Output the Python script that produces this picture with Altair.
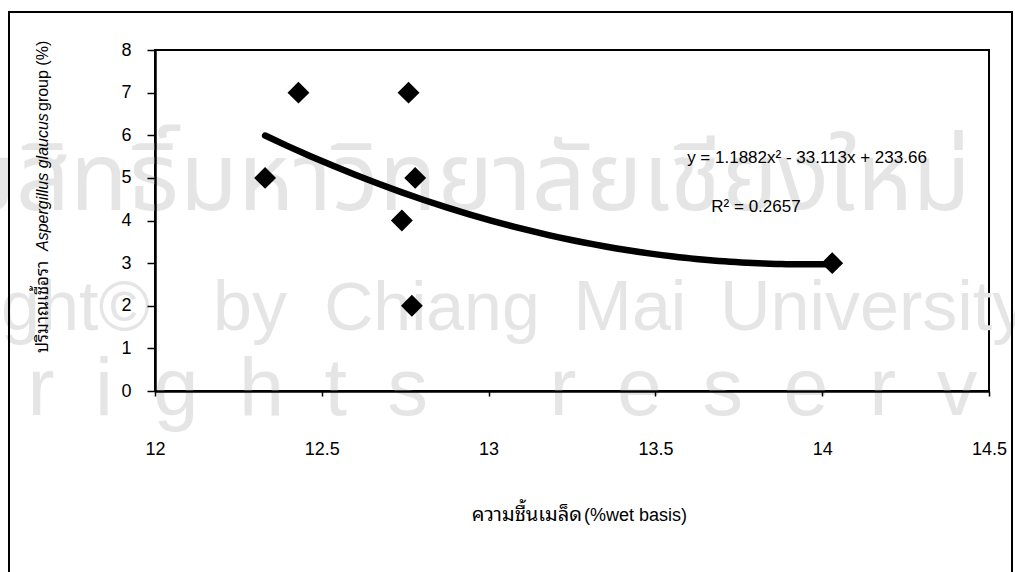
import altair as alt
import pandas as pd

# ---- data ----
moisture = [12.33, 12.43, 12.74, 12.76, 12.78, 12.77, 14.03]   # % wet basis
fungi = [5, 7, 4, 7, 5, 2, 3]                                   # % Aspergillus glaucus group
x_ticks = [12, 12.5, 13, 13.5, 14, 14.5]
y_ticks = [0, 1, 2, 3, 4, 5, 6, 7, 8]
equation_text = "y = 1.1882x² - 33.113x + 233.66"
r2_text = "R² = 0.2657"
x_title_parts = ["ความชื้นเมล็ด", "(%wet basis)"]
y_title_parts = ["ปริมาณเชื้อรา", "Aspergillus glaucus", "group (%)"]

df = pd.DataFrame({"x": moisture, "y": fungi})
one = pd.DataFrame({"a": [0]})

FONT = "Liberation Sans, Arial, Helvetica, sans-serif"
THAI = "Noto Sans Thai Looped, Noto Sans Thai, Loma, Garuda, Liberation Sans, sans-serif"
THAI_WM = "Noto Sans Thai, Noto Sans Thai Looped, Liberation Sans, sans-serif"
WM = "#e5e5e5"

xs = alt.Scale(domain=[12, 14.5], nice=False, zero=False)
ys = alt.Scale(domain=[0, 8], nice=False, zero=True)

x_axis = alt.Axis(
    values=x_ticks, format="~g", grid=False, title=None,
    domainColor="black", domainWidth=2.5, tickColor="black", tickSize=5, tickWidth=1.5,
    labelFont=FONT, labelFontSize=18, labelColor="black", labelPadding=44,
    labelBaseline="top", labelFlush=False, zindex=1,
)
y_axis = alt.Axis(
    values=y_ticks, format="d", grid=False, title=None,
    domainColor="black", domainWidth=2.5, tickColor="black", tickSize=8, tickWidth=1.5,
    labelFont=FONT, labelFontSize=18, labelColor="black", labelPadding=16, zindex=1,
)


def txt(text, x, y, size, font=FONT, align="center", baseline="alphabetic",
        color="black", angle=0, style="normal"):
    return alt.Chart(one).mark_text(
        text=text, font=font, fontSize=size, color=color, align=align,
        baseline=baseline, angle=angle, fontStyle=style,
    ).encode(x=alt.value(x), y=alt.value(y))


# watermark of the scanned page (light grey, behind everything)
sp = "\u2002"
watermark = [
    txt("ลิขสิทธิ์มหาวิทยาลัยเชียงใหม่", 285, 160, 95, font=THAI_WM, color=WM),
    txt("Copyright©", -5, 280, 70, color=WM, align="right"),
    txt("by", 95, 280, 70, color=WM),
    txt("Chiang", 277, 280, 68, color=WM),
    txt("Mai", 475, 280, 70, color=WM),
    txt("University", 565, 280, 70, color=WM, align="left"),
    txt(sp.join("All") + sp + "\u2003" + sp.join("rights") + sp + "\u2003" + sp.join("reserved"),
        -420, 365, 81, color=WM, align="left"),
]

border = alt.Chart(one).mark_rect(
    fillOpacity=0, stroke="black", strokeWidth=2
).encode(x=alt.value(-146), x2=alt.value(857), y=alt.value(-38), y2=alt.value(620))

trend = alt.Chart(df).transform_regression(
    "x", "y", method="poly", order=2
).mark_line(color="black", strokeWidth=6.5, strokeCap="round").encode(
    x=alt.X("x:Q", scale=xs, axis=x_axis),
    y=alt.Y("y:Q", scale=ys, axis=y_axis),
)

points = alt.Chart(df).mark_point(
    shape="diamond", filled=True, size=480, color="black", opacity=1
).encode(x=alt.X("x:Q", scale=xs), y=alt.Y("y:Q", scale=ys))

eq = txt(equation_text, 652, 108, 17, baseline="middle")
r2 = txt(r2_text, 601, 157, 17, baseline="middle")

# x-axis title (Thai + Latin)
xt1 = txt(x_title_parts[0], 427, 471, 20, font=THAI, align="right")
xt2 = txt(x_title_parts[1], 429, 471, 18, align="left")

# y-axis title in three pieces (middle part italic)
yt1 = txt(y_title_parts[0], -112, 303, 17, font=THAI, align="left", baseline="middle", angle=270)
yt2 = txt(y_title_parts[1], -112, 201, 16, align="left", baseline="middle", angle=270, style="italic")
yt3 = txt(y_title_parts[2], -112, 61, 16, align="left", baseline="middle", angle=270)

chart = alt.layer(
    *watermark, border, trend, points, eq, r2, xt1, xt2, yt1, yt2, yt3
).properties(
    width=834, height=341,
    autosize=alt.AutoSizeParams(type="none"),
    padding={"left": 155, "top": 50, "right": 26, "bottom": 181},
    background="white",
).configure_view(stroke="black", strokeWidth=2)

chart.save("out.html", embed_options={"renderer": "svg", "actions": False})
